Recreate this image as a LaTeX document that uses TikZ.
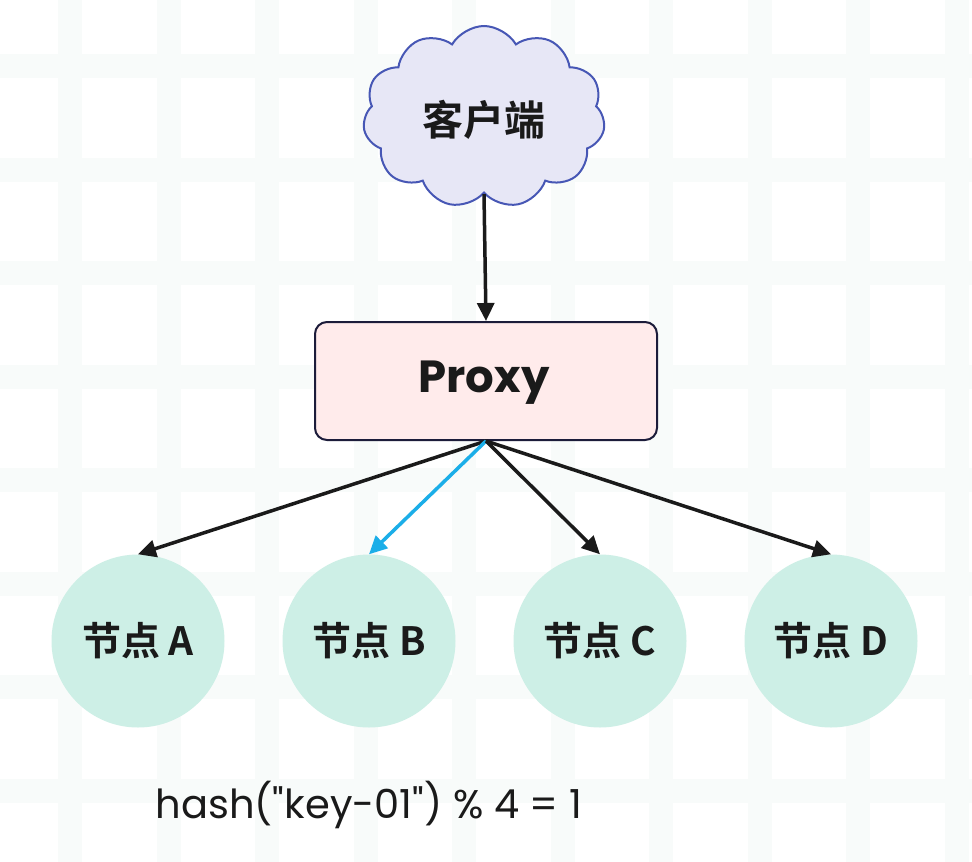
\documentclass[tikz,border=0pt]{standalone}
\usepackage{fontspec}
\setmainfont{Poppins}
\newfontfamily\hashfont{Poppins}[Ligatures=TeXOff]
\newfontfamily\cjk{Noto Sans CJK SC}[BoldFont={* Bold}]
\usetikzlibrary{shapes.symbols,arrows.meta}
\definecolor{gridc}{HTML}{F8FBFA}
\definecolor{cloudfill}{HTML}{E7E7F6}
\definecolor{cloudline}{HTML}{4757B5}
\definecolor{proxyfill}{HTML}{FFEBEB}
\definecolor{proxyline}{HTML}{1C1C3A}
\definecolor{nodefill}{HTML}{CDEFE6}
\definecolor{bluearrow}{HTML}{1BAEE8}
\definecolor{txt}{HTML}{1A1A1A}
\tikzset{
  cloudbox/.style={cloud, cloud puffs=11, cloud puff arc=120, cloud ignores aspect, draw=cloudline, fill=cloudfill,
    line width=2pt, minimum width=242pt, minimum height=182pt, inner sep=0pt},
  proxybox/.style={rectangle, rounded corners=12pt, draw=proxyline, fill=proxyfill, line width=2pt,
    minimum width=342pt, minimum height=118pt},
  hashnode/.style={circle, fill=nodefill, minimum size=173pt, inner sep=0pt},
  conn/.style={line width=3.5pt, draw=txt, -{Triangle[length=18pt,width=17pt]}},
  bconn/.style={line width=3.5pt, draw=bluearrow, -{Triangle[length=18pt,width=17pt]}},
}
\begin{document}
\begin{tikzpicture}[x=1pt,y=-1pt]
\fill[white] (0,0) rectangle (972,862);
\useasboundingbox (0,0) rectangle (972,862);
% faint grid
\foreach \gx in {0,...,9} {
  \fill[gridc] ({70+98.5*\gx-12},0) rectangle ({70+98.5*\gx+12},862);
}
\foreach \gy in {0,...,8} {
  \fill[gridc] (0,{66+103.5*\gy-12}) rectangle (972,{66+103.5*\gy+12});
}
\node[cloudbox] (client) at (484,117) {};
\node[text=txt] (clienttxt) at (484,120) {\cjk\bfseries\fontsize{41}{48}\selectfont 客户端};
\node[proxybox] (proxy) at (486,381) {};
\node[text=txt] (proxytxt) at (484,383) {\bfseries\fontsize{45}{52}\selectfont Proxy};
\node[hashnode] (na) at (138,641) {\cjk\bfseries\fontsize{39}{46}\selectfont\color{txt} 节点 A};
\node[hashnode] (nb) at (369,641) {\cjk\bfseries\fontsize{39}{46}\selectfont\color{txt} 节点 B};
\node[hashnode] (nc) at (600,641) {\cjk\bfseries\fontsize{39}{46}\selectfont\color{txt} 节点 C};
\node[hashnode] (nd) at (831,641) {\cjk\bfseries\fontsize{39}{46}\selectfont\color{txt} 节点 D};
\draw[conn] (client.south) -- (proxy.north);
\draw[conn] (proxy.south) -- (na.north);
\draw[bconn] (proxy.south) -- (nb.north);
\draw[conn] (proxy.south) -- (nc.north);
\draw[conn] (proxy.south) -- (nd.north);
\node[text=txt] (hash) at (369,805) {\hashfont\fontsize{40}{48}\selectfont hash("key-01") \% 4 = 1};
\end{tikzpicture}
\end{document}
